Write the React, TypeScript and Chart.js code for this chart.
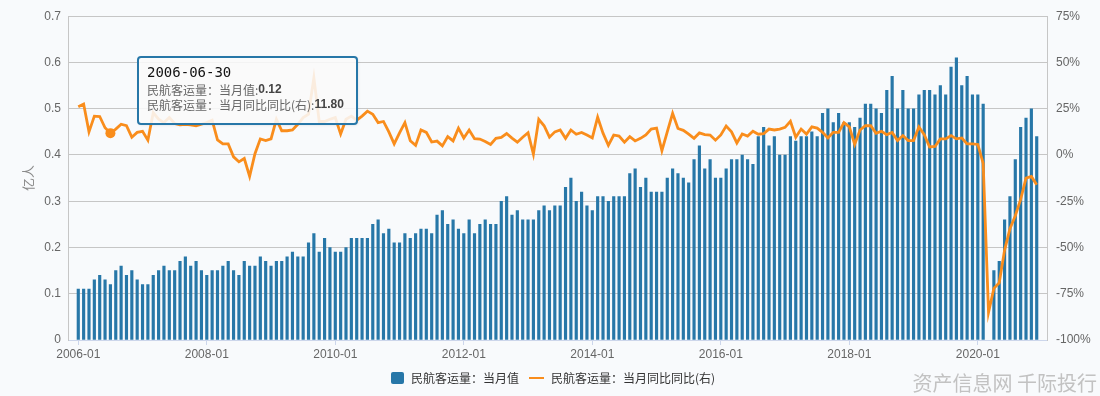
import React, { useEffect, useRef } from 'react';
import { Chart, registerables } from 'chart.js';

Chart.register(...registerables);

// ---------- data ----------
const tickIndex = [0, 24, 48, 72, 96, 120, 144, 168];
const tickLabels = ['2006-01', '2008-01', '2010-01', '2012-01', '2014-01', '2016-01', '2018-01', '2020-01'];

const seriesNames = ['民航客运量：当月值', '民航客运量：当月同比同比(右)'];
const yTitle = '亿人';
const watermark = '资产信息网 千际投行';
const tooltipIndex = 6;
const tooltipDate = '2006-06-30';
const tooltipLabels = ['民航客运量：当月值:', '民航客运量：当月同比同比(右):'];

// monthly passengers (亿人); null = no bar visible
const passengers: (number | null)[] = [
  0.11, 0.11, 0.11, 0.13, 0.14, 0.13, 0.12, 0.15, 0.16, 0.14,
  0.15, 0.13, 0.12, 0.12, 0.14, 0.15, 0.16, 0.15, 0.15, 0.17,
  0.18, 0.16, 0.17, 0.15, 0.14, 0.15, 0.15, 0.16, 0.17, 0.15,
  0.14, 0.17, 0.16, 0.16, 0.18, 0.17, 0.16, 0.17, 0.17, 0.18,
  0.19, 0.18, 0.18, 0.21, 0.23, 0.19, 0.22, 0.20, 0.19, 0.19,
  0.20, 0.22, 0.22, 0.22, 0.22, 0.25, 0.26, 0.23, 0.24, 0.21,
  0.21, 0.23, 0.22, 0.23, 0.24, 0.24, 0.23, 0.27, 0.28, 0.25,
  0.26, 0.24, 0.23, 0.26, 0.23, 0.25, 0.26, 0.25, 0.25, 0.30,
  0.31, 0.27, 0.28, 0.26, 0.26, 0.26, 0.28, 0.29, 0.28, 0.29,
  0.29, 0.33, 0.35, 0.30, 0.32, 0.29, 0.28, 0.31, 0.31, 0.30,
  0.31, 0.31, 0.31, 0.36, 0.37, 0.33, 0.35, 0.32, 0.32, 0.32,
  0.35, 0.37, 0.36, 0.35, 0.34, 0.39, 0.42, 0.37, 0.39, 0.35,
  0.35, 0.37, 0.39, 0.39, 0.40, 0.39, 0.38, 0.44, 0.46, 0.42,
  0.44, 0.40, 0.40, 0.44, 0.43, 0.44, 0.44, 0.45, 0.44, 0.49,
  0.50, 0.47, 0.49, 0.47, 0.47, 0.46, 0.48, 0.51, 0.51, 0.50,
  0.49, 0.54, 0.57, 0.50, 0.54, 0.50, 0.50, 0.53, 0.54, 0.54,
  0.53, 0.55, 0.53, 0.59, 0.61, 0.55, 0.57, 0.53, 0.53, 0.51,
  null, 0.15, 0.17, 0.26, 0.31, 0.39, 0.46, 0.48, 0.50, 0.44,
];

// year-on-year change (%)
const yoy = [
  26.0, 27.5, 12.5, 21.0, 20.8, 14.7, 11.8, 14.0, 16.6, 15.8,
  9.6, 12.2, 12.8, 8.0, 22.8, 19.3, 17.5, 20.2, 17.0, 16.3,
  16.6, 16.3, 15.8, 16.6, 17.5, 18.8, 8.2, 6.0, 6.0, -1.0,
  -3.7, -1.9, -11.6, 0.7, 8.7, 7.8, 8.7, 19.3, 13.1, 13.1,
  13.5, 16.6, 20.2, 22.0, 41.7, 18.1, 18.1, 19.3, 20.2, 11.3,
  19.3, 21.0, 18.8, 21.0, 23.7, 22.0, 17.5, 18.1, 12.5, 6.0,
  12.0, 17.5, 7.7, 5.2, 13.5, 12.2, 7.0, 7.5, 4.9, 9.9,
  7.6, 14.5, 9.2, 13.5, 8.8, 8.6, 7.3, 5.7, 9.0, 9.5,
  11.6, 9.1, 6.9, 9.6, 12.0, 0.4, 19.3, 15.8, 9.6, 12.5,
  13.5, 9.0, 13.5, 11.2, 12.2, 10.8, 9.2, 20.4, 11.8, 5.2,
  10.8, 10.2, 6.9, 9.9, 7.6, 9.0, 10.8, 14.0, 14.5, 2.3,
  12.5, 22.5, 14.3, 13.3, 11.3, 9.0, 11.9, 11.0, 10.8, 8.0,
  10.8, 15.6, 12.5, 6.5, 11.3, 10.2, 12.8, 11.2, 11.5, 14.0,
  13.5, 14.0, 14.9, 18.2, 9.6, 14.0, 11.3, 15.2, 14.5, 12.2,
  9.2, 12.2, 12.2, 17.5, 15.2, 5.7, 13.5, 15.8, 15.8, 11.7,
  12.8, 11.0, 12.2, 7.8, 10.5, 7.8, 7.8, 15.2, 11.0, 4.3,
  4.6, 8.7, 8.7, 10.5, 8.7, 9.2, 6.0, 6.0, 5.7, -4.6,
  -85.0, -72.1, -69.1, -51.4, -39.9, -32.8, -24.0, -12.5, -11.6, -16.1,
];

// ---------- styles ----------
const BAR_COLOR = '#2777a8';
const LINE_COLOR = '#f98d1c';
const BG = '#f8fafc';
const FONT = "'Liberation Sans', 'Noto Sans CJK SC', sans-serif";
const CJK = "'Noto Sans CJK SC', 'Liberation Sans', sans-serif";

const labelMap: Record<number, string> = {};
tickIndex.forEach((v, i) => { labelMap[v] = tickLabels[i]; });

const decorPlugin = {
  id: 'decor',
  beforeDraw(chart: any) {
    const { ctx, width, height } = chart;
    ctx.save();
    ctx.fillStyle = BG;
    ctx.fillRect(0, 0, width, height);
    ctx.restore();
  },
  afterDatasetsDraw(chart: any) {
    const { ctx } = chart;
    const pt = chart.getDatasetMeta(1).data[tooltipIndex];
    if (pt) {
      ctx.save();
      ctx.beginPath();
      ctx.arc(pt.x, pt.y, 5, 0, Math.PI * 2);
      ctx.fillStyle = LINE_COLOR;
      ctx.fill();
      ctx.restore();
    }
  },
  afterDraw(chart: any) {
    const { ctx, chartArea } = chart;
    ctx.save();
    // y axis title
    ctx.save();
    ctx.translate(28, (chartArea.top + chartArea.bottom) / 2);
    ctx.rotate(-Math.PI / 2);
    ctx.font = `13px ${CJK}`;
    ctx.fillStyle = '#8a8a8a';
    ctx.textAlign = 'center';
    ctx.textBaseline = 'middle';
    ctx.fillText(yTitle, 0, 0);
    ctx.restore();

    // tooltip box
    const bx = 138, by = 57, bw = 219, bh = 67;
    ctx.save();
    ctx.shadowColor = 'rgba(0,0,0,0.15)';
    ctx.shadowBlur = 3;
    ctx.shadowOffsetX = 1;
    ctx.shadowOffsetY = 1;
    ctx.beginPath();
    ctx.roundRect(bx, by, bw, bh, 3);
    ctx.fillStyle = 'rgba(255,255,255,0.86)';
    ctx.fill();
    ctx.restore();
    ctx.beginPath();
    ctx.roundRect(bx, by, bw, bh, 3);
    ctx.lineWidth = 2;
    ctx.strokeStyle = BAR_COLOR;
    ctx.stroke();

    ctx.textBaseline = 'middle';
    ctx.textAlign = 'left';
    ctx.font = `14px 'DejaVu Sans Mono', monospace`;
    ctx.fillStyle = '#111';
    ctx.fillText(tooltipDate, 147, 73);
    const vals = [(passengers[tooltipIndex] as number).toFixed(2), yoy[tooltipIndex].toFixed(2)];
    [90, 105].forEach((yy, i) => {
      ctx.font = `12px ${CJK}`;
      ctx.fillStyle = '#666';
      ctx.fillText(tooltipLabels[i], 147, yy);
      const w = ctx.measureText(tooltipLabels[i]).width;
      ctx.font = `bold 12px ${FONT}`;
      ctx.fillStyle = '#444';
      ctx.fillText(vals[i], 147 + w, yy);
    });

    // legend
    const ly = 378;
    let x = 391;
    ctx.beginPath();
    ctx.roundRect(x, ly - 6, 13, 12, 2);
    ctx.fillStyle = BAR_COLOR;
    ctx.fill();
    x += 20;
    ctx.font = `12px ${CJK}`;
    ctx.fillStyle = '#333';
    ctx.fillText(seriesNames[0], x, ly);
    x += ctx.measureText(seriesNames[0]).width + 10;
    ctx.beginPath();
    ctx.moveTo(x, ly);
    ctx.lineTo(x + 15, ly);
    ctx.lineWidth = 2;
    ctx.strokeStyle = LINE_COLOR;
    ctx.stroke();
    x += 22;
    ctx.fillStyle = '#333';
    ctx.fillText(seriesNames[1], x, ly);

    // watermark
    ctx.font = `20px ${CJK}`;
    ctx.fillStyle = '#c2c2c2';
    ctx.textAlign = 'right';
    ctx.fillText(watermark, 1097, 383);
    ctx.restore();
  },
};

export default function App() {
  const ref = useRef<HTMLCanvasElement | null>(null);
  useEffect(() => {
    document.body.style.margin = '0';
    const canvas = ref.current;
    if (!canvas) return;
    const chart = new Chart(canvas, {
      type: 'bar',
      data: {
        datasets: [
          {
            type: 'bar',
            label: seriesNames[0],
            data: passengers.map((v, i) => ({ x: i, y: v })),
            backgroundColor: BAR_COLOR,
            barThickness: 2.5,
            yAxisID: 'y',
            order: 1,
          } as any,
          {
            type: 'line',
            label: seriesNames[1],
            data: yoy.map((v, i) => ({ x: i, y: v })),
            borderColor: LINE_COLOR,
            backgroundColor: LINE_COLOR,
            borderWidth: 2.8,
            pointRadius: 0,
            tension: 0,
            yAxisID: 'y1',
            order: 0,
          } as any,
        ],
      },
      options: {
        animation: false,
        responsive: true,
        maintainAspectRatio: false,
        layout: { padding: { top: 10, left: 0, right: 0, bottom: 0 } },
        plugins: { legend: { display: false }, tooltip: { enabled: false } },
        events: [],
        font: { family: FONT },
        scales: {
          x: {
            type: 'linear',
            offset: false,
            min: -1.92,
            max: 180.92,
            afterBuildTicks: (s: any) => { s.ticks = tickIndex.map((v) => ({ value: v })); },
            afterFit: (s: any) => { s.height = 56; },
            ticks: {
              autoSkip: false,
              maxRotation: 0,
              color: '#666',
              font: { family: FONT, size: 12 },
              padding: 2,
              callback: (v: any) => labelMap[v] ?? '',
            },
            grid: { offset: false, drawOnChartArea: false, drawTicks: true, tickLength: 5, color: '#ccd6eb' },
            border: { color: '#ccd6eb' },
          },
          y: {
            position: 'left',
            min: 0,
            max: 0.7,
            afterFit: (s: any) => { s.width = 68; },
            ticks: {
              stepSize: 0.1,
              color: '#666',
              padding: 7,
              font: { family: FONT, size: 12 },
              callback: (v: any) => String(Math.round(v * 10) / 10),
            },
            grid: { color: '#c6c6c6', drawTicks: false },
            border: { color: '#c6c6c6' },
          },
          y1: {
            position: 'right',
            min: -100,
            max: 75,
            afterFit: (s: any) => { s.width = 53; },
            ticks: {
              stepSize: 25,
              color: '#666',
              padding: 9,
              font: { family: FONT, size: 12 },
              callback: (v: any) => `${v}%`,
            },
            grid: { drawOnChartArea: false, drawTicks: false },
            border: { color: '#c6c6c6' },
          },
        },
      } as any,
      plugins: [decorPlugin],
    });
    return () => chart.destroy();
  }, []);
  return (
    <div style={{ position: 'relative', width: 1100, height: 396 }}>
      <canvas ref={ref} />
    </div>
  );
}
